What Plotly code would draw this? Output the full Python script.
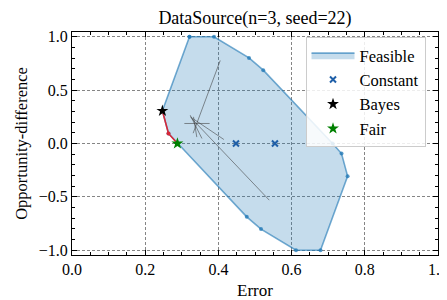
import plotly.graph_objects as go

# Feasible region vertices (Error, Opportunity-difference)
feasible_x = [0.321, 0.388, 0.4836, 0.5226, 0.712, 0.7364, 0.753, 0.679, 0.612, 0.5164, 0.4774, 0.288, 0.2636, 0.247, 0.321]
feasible_y = [1.0, 1.0, 0.802, 0.687, 0.0, -0.094, -0.306, -1.0, -1.0, -0.802, -0.687, 0.0, 0.094, 0.306, 1.0]

# Red frontier segment
frontier_x = [0.247, 0.2636, 0.288]
frontier_y = [0.306, 0.094, 0.0]

# Thin gray direction lines (segments separated by None)
star_x = [0.331, 0.405, None, 0.307, 0.376, None, 0.323, 0.415, None, 0.327, 0.539, None, 0.323, 0.355, None, 0.332, 0.341]
star_y = [0.0965, 0.778, None, 0.1875, 0.1875, None, 0.25, 0.0375, None, 0.234, -0.531, None, 0.265, 0.047, None, 0.25, 0.06]

constant_x = [0.448, 0.5545]
constant_y = [0.0, 0.0]
bayes_x = [0.247]
bayes_y = [0.306]
fair_x = [0.288]
fair_y = [0.0]

FONT = "Liberation Serif, serif"

fig = go.Figure()
fig.add_trace(go.Scatter(
    x=feasible_x, y=feasible_y, mode="lines", fill="toself",
    fillcolor="rgba(31,119,180,0.26)",
    line=dict(color="rgba(31,119,180,0.62)", width=1.6),
    name="Feasible", legendgroup="a",
))
fig.add_trace(go.Scatter(
    x=feasible_x, y=feasible_y, mode="markers",
    marker=dict(size=4, color="rgba(31,119,180,0.75)"),
    showlegend=False, hoverinfo="skip",
))
fig.add_trace(go.Scatter(
    x=frontier_x, y=frontier_y, mode="lines+markers",
    line=dict(color="#d62738", width=1.6),
    marker=dict(size=4, color="#d62738"),
    showlegend=False,
))
fig.add_trace(go.Scatter(
    x=star_x, y=star_y, mode="lines",
    line=dict(color="rgba(60,60,60,0.8)", width=0.7),
    showlegend=False,
))
fig.add_trace(go.Scatter(
    x=constant_x, y=constant_y, mode="markers", name="Constant", legendgroup="b",
    marker=dict(symbol="x-thin", size=6, line=dict(width=2, color="#1f5fa8"), color="#1f5fa8"),
))
fig.add_trace(go.Scatter(
    x=bayes_x, y=bayes_y, mode="markers", name="Bayes", legendgroup="c",
    marker=dict(symbol="star", size=9, color="black"),
))
fig.add_trace(go.Scatter(
    x=fair_x, y=fair_y, mode="markers", name="Fair", legendgroup="d",
    marker=dict(symbol="star", size=9, color="#008000"),
))

axis_common = dict(
    showline=True, linecolor="black", linewidth=1, mirror="allticks",
    ticks="inside", ticklen=5, tickwidth=1, tickcolor="black",
    showgrid=True, gridcolor="rgba(120,120,120,0.9)", griddash="3px,2px", gridwidth=0.8,
    zeroline=False, tickformat=".1f", automargin=False, ticklabeloverflow="allow",
    tickfont=dict(family=FONT, size=16, color="black"),
)

# page body has an 8px default margin; figure is sized to fit the window
fig.update_layout(
    width=439, height=292,
    margin=dict(l=64, r=9, t=24, b=45, autoexpand=False),
    plot_bgcolor="white", paper_bgcolor="white",
    font=dict(family=FONT, size=16, color="black"),
    title=dict(text="DataSource(n=3, seed=22)", x=0.5, xref="paper", xanchor="center",
               y=1 - 10 / 292, yref="container", yanchor="middle",
               font=dict(family=FONT, size=18, color="black")),
    xaxis=dict(range=[0, 1], dtick=0.2, tick0=0,
               minor=dict(ticks="inside", ticklen=3, dtick=0.05, tickcolor="black", showgrid=False),
               title=dict(text="Error", font=dict(family=FONT, size=17), standoff=6),
               **axis_common),
    yaxis=dict(range=[-1.045, 1.045], dtick=0.5, tick0=0,
               minor=dict(ticks="inside", ticklen=3, dtick=0.1, tickcolor="black", showgrid=False),
               title=dict(text="Opportunity-difference", font=dict(family=FONT, size=16.5), standoff=6),
               **axis_common),
    legend=dict(x=0.638, y=0.978, xanchor="left", yanchor="top",
                bgcolor="rgba(255,255,255,0.85)", bordercolor="#cccccc", borderwidth=1,
                font=dict(family=FONT, size=16.5), tracegroupgap=1.5, traceorder="normal",
                itemwidth=43),
)

fig.write_html("out.html")
